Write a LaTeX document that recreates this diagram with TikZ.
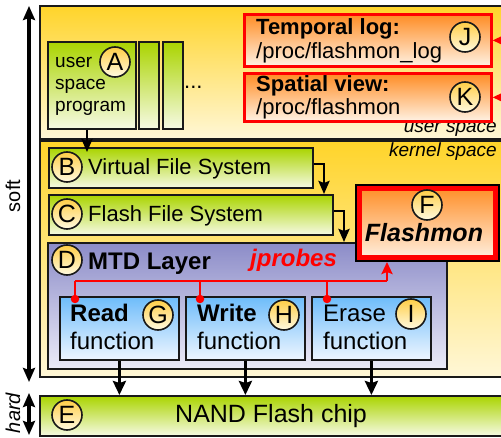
\documentclass[tikz,border=0pt]{standalone}
\usepackage{fontspec}
\setmainfont{Liberation Sans}
\usetikzlibrary{arrows.meta,calc}
\definecolor{ylwtop}{RGB}{255,212,42}
\definecolor{ylwbot}{RGB}{255,247,215}
\definecolor{grntop}{RGB}{170,212,0}
\definecolor{grnbot}{RGB}{246,250,228}
\definecolor{lavtop}{RGB}{140,140,200}
\definecolor{lavbot}{RGB}{236,236,248}
\definecolor{blutop}{RGB}{110,188,250}
\definecolor{blubot}{RGB}{238,246,255}
\definecolor{orgtop}{RGB}{255,140,35}
\definecolor{orgbot}{RGB}{255,242,228}
\definecolor{bdgtop}{RGB}{255,205,70}
\definecolor{bdgbot}{RGB}{255,250,225}
\definecolor{frame}{RGB}{25,25,25}
\definecolor{myred}{RGB}{255,0,0}
\newcommand\fs[1]{\fontsize{#1}{#1}\selectfont}
\begin{document}
\begin{tikzpicture}[x=1pt,y=-1pt,
  box/.style={draw=frame, line width=1.8pt, inner sep=0pt, anchor=north west},
  ylw/.style={top color=ylwtop, bottom color=ylwbot},
  grn/.style={top color=grntop, bottom color=grnbot},
  lav/.style={top color=lavtop, bottom color=lavbot},
  blu/.style={top color=blutop, bottom color=blubot},
  org/.style={top color=orgtop, bottom color=orgbot},
  badge/.style={circle, draw=frame, line width=1.6pt, minimum size=30pt, inner sep=0pt,
    top color=bdgtop, bottom color=bdgbot, font=\fs{25}},
  txt/.style={inner sep=0pt, anchor=base west, font=\fs{22}},
  blkarr/.style={draw=black, line width=2.5pt, -{Stealth[length=13pt,width=11pt,inset=2pt]}},
  bigarr/.style={draw=black, line width=3.5pt, -{Stealth[length=14pt,width=13pt,inset=2pt]}},
  redline/.style={draw=myred, line width=2.8pt},
  redarr/.style={draw=myred, line width=2.8pt, -{Stealth[length=12pt,width=11pt,inset=2pt]}},
  reddot/.style={circle, fill=myred, inner sep=0pt, minimum size=8.5pt},
  axarr/.style={draw=black, line width=3.8pt,
    {Stealth[length=14pt,width=12pt,inset=2pt]}-{Stealth[length=14pt,width=12pt,inset=2pt]}}
]
\clip (0,0) rectangle (501,438);

% spaces
\node[box, ylw, minimum width=466pt, minimum height=133pt] (US) at (39,5) {};
\node[box, ylw, minimum width=466pt, minimum height=236pt] (KS) at (39,140) {};
\node[txt, anchor=base east, font=\itshape\fs{19}] (ustxt) at (497,133) {user space};
\node[txt, anchor=base east, font=\itshape\fs{19}] (kstxt) at (497,157) {kernel space};

% user space programs
\node[box, grn, minimum width=88pt, minimum height=87pt] (A) at (47,41) {};
\node[box, grn, minimum width=20pt, minimum height=87pt] (A2) at (138,41) {};
\node[box, grn, minimum width=20pt, minimum height=87pt] (A3) at (162,41) {};
\node[txt, font=\fs{19}] (a1) at (55,68) {user};
\node[txt, font=\fs{19}] (a2) at (55,90) {space};
\node[txt, font=\fs{19}] (a3) at (55,112) {program};
\node[badge] (bA) at (115,62) {A};
\node[txt] (dots) at (184,89) {...};

% proc files
\node[box, org, draw=myred, line width=2.7pt, minimum width=247pt, minimum height=52pt] (J) at (243,13) {};
\node[txt, font=\bfseries\fs{22}] (j1) at (256,35) {Temporal log:};
\node[txt] (j2) at (256,59) {/proc/flashmon\_log};
\node[badge] (bJ) at (465,37) {J};
\node[box, org, draw=myred, line width=2.7pt, minimum width=247pt, minimum height=48pt] (K) at (243,72) {};
\node[txt, font=\bfseries\fs{22}] (k1) at (256,92) {Spatial view:};
\node[txt] (k2) at (256,115) {/proc/flashmon};
\node[badge] (bK) at (465,97) {K};

% kernel layers
\node[box, grn, minimum width=264pt, minimum height=40pt] (B) at (48,147) {};
\node[txt] (btxt) at (88,175) {Virtual File System};
\node[badge] (bB) at (67,167) {B};
\node[box, grn, minimum width=284pt, minimum height=40pt] (C) at (48,194) {};
\node[txt] (ctxt) at (88,222) {Flash File System};
\node[badge] (bC) at (67,214) {C};
\node[box, lav, minimum width=399pt, minimum height=126pt] (D) at (47,242) {};
\node[txt, font=\bfseries\fs{24}] (dtxt) at (88,270) {MTD Layer};
\node[badge] (bD) at (67,260) {D};
\node[txt, font=\bfseries\itshape\fs{24}, text=myred] (jp) at (250,267) {jprobes};

% Flashmon
\node[box, org, draw=black, line width=4pt, minimum width=141pt, minimum height=74pt] (F) at (355,184) {};
\draw[myred, line width=5pt] ([shift={(4.5pt,-4.5pt)}]F.north west) rectangle ([shift={(-4.5pt,4.5pt)}]F.south east);
\node[badge] (bF) at (427,205) {F};
\node[inner sep=0pt, anchor=base, font=\bfseries\itshape\fs{25}] (ftxt) at (424,242) {Flashmon};

% functions
\node[box, blu, minimum width=119pt, minimum height=63pt] (G) at (59,296) {};
\node[txt, font=\bfseries\fs{24}] (g1) at (70,322) {Read};
\node[txt, font=\fs{24}] (g2) at (70,350) {function};
\node[badge] (bG) at (158,315) {G};
\node[box, blu, minimum width=119pt, minimum height=63pt] (H) at (185,296) {};
\node[txt, font=\bfseries\fs{24}] (h1) at (197,322) {Write};
\node[txt, font=\fs{24}] (h2) at (197,350) {function};
\node[badge] (bH) at (284,315) {H};
\node[box, blu, minimum width=119pt, minimum height=63pt] (I) at (311,296) {};
\node[txt, font=\fs{24}] (i1) at (323,322) {Erase};
\node[txt, font=\fs{24}] (i2) at (323,350) {function};
\node[badge] (bI) at (411,314) {I};

% NAND
\node[box, grn, minimum width=466pt, minimum height=40pt] (E) at (39,395) {};
\node[txt, font=\fs{25}] (etxt) at (175,423) {NAND Flash chip};
\node[badge] (bE) at (67,415) {E};

% black connectors
\coordinate (ab) at (87,152);
\draw[blkarr] (A.south -| ab) -- (ab);
\coordinate (bc) at (324,194);
\draw[blkarr] ([yshift=4pt]B.east) -| (bc);
\coordinate (cd) at (344,242);
\draw[blkarr] ([yshift=4pt]C.east) -| (cd);
\draw[bigarr] (G.south) -- (G.south |- E.north);
\draw[bigarr] (H.south) -- (H.south |- E.north);
\draw[bigarr] (I.south) -- (I.south |- E.north);

% jprobes red lines
\coordinate (r1) at (75,281);
\coordinate (r2) at (200,281);
\coordinate (r3) at (327,281);
\coordinate (r4) at (387,281);
\draw[redline] (r1) -- (r4);
\draw[redarr] (r4) -- (r4 |- F.south);
\draw[redline] (r1) -- ++(0,18) node[reddot] (d1) {};
\draw[redline] (r2) -- ++(0,18) node[reddot] (d2) {};
\draw[redline] (r3) -- ++(0,18) node[reddot] (d3) {};

% Flashmon to proc files
\coordinate (fr) at (508,205);
\draw[redline] ([xshift=2pt]F.east |- fr) -- (fr) -- (fr |- J.east);
\draw[redarr] (fr |- J.east) -- (J.east);
\draw[redarr] (fr |- K.east) -- (K.east);

% soft / hard axis
\coordinate (st) at (29,6);
\coordinate (sb) at (29,382);
\draw[axarr] (st) -- (sb);
\coordinate (ht) at (29,393);
\coordinate (hb) at (29,435);
\draw[axarr] (ht) -- (hb);
\node[rotate=90, inner sep=0pt, font=\fs{20}] (soft) at (13,196) {soft};
\node[rotate=90, inner sep=0pt, font=\itshape\fs{20}] (hard) at (13,413) {hard};
\end{tikzpicture}
\end{document}
